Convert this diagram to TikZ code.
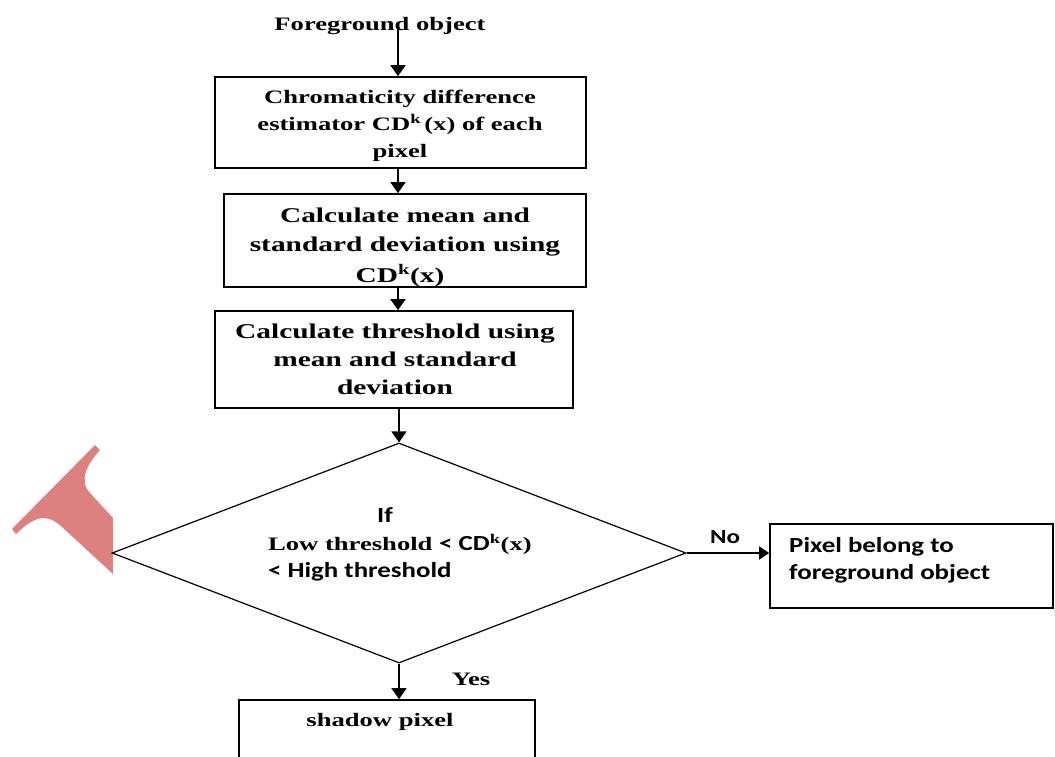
\documentclass[tikz,border=0pt]{standalone}
\usepackage{fontspec}
\usetikzlibrary{shapes.geometric,arrows.meta}
\newfontfamily\srf[FakeStretch=1.4]{Liberation Serif}
\newfontfamily\carl[FakeStretch=1.25]{Carlito}
\definecolor{wmred}{RGB}{220,128,128}
\begin{document}
\begin{tikzpicture}[x=1pt,y=-1pt,
  box/.style={draw, line width=1.7pt, inner sep=0pt},
  tS/.style={font=\srf\bfseries\fontsize{19}{28}\selectfont, inner sep=0pt, anchor=base},
  tL/.style={font=\srf\bfseries\fontsize{21}{28}\selectfont, inner sep=0pt, anchor=base},
  tC/.style={font=\carl\bfseries\fontsize{21.5}{28}\selectfont, inner sep=0pt, anchor=base},
  arr/.style={line width=1.7pt, -{Triangle[length=11pt,width=15pt]}},
  thinarr/.style={line width=1.4pt, -{Triangle[length=10pt,width=13pt]}}]
\clip (0,0) rectangle (1055,756);
\fill[white] (0,0) rectangle (1055,756);
% watermark fragment
\fill[wmred] (95,445) -- (100,450) .. controls (88,463) and (78,480) .. (90,493) -- (113,518) -- (113,574) -- (62,527) .. controls (50,516) and (38,512) .. (16,534) -- (12,529) -- cycle;
% boxes
\node[box, minimum width=371pt, minimum height=91pt] (b1) at (400.5,122.5) {};
\node[box, minimum width=362pt, minimum height=93pt] (b2) at (405,240.5) {};
\node[box, minimum width=358pt, minimum height=97pt] (b3) at (394,359.5) {};
\node[draw, line width=1.2pt, diamond, minimum width=574pt, minimum height=220pt, inner sep=0pt] (d) at (399,553) {};
\node[box, minimum width=283pt, minimum height=84pt] (b4) at (911.5,566) {};
\node[box, minimum width=296pt, minimum height=90pt] (b5) at (387,745) {};
% texts
\node[tS] (fg) at (380,30) {Foreground object};
\coordinate (fgs) at (398,22);
\node[tS] (b1a) at (400,103) {Chromaticity difference};
\node[tS] (b1b) at (400,130) {estimator CD\textsuperscript{k}\,(x) of each};
\node[tS] (b1c) at (400,157) {pixel};
\node[tL] (b2a) at (405,222) {Calculate mean and};
\node[tL] (b2b) at (405,251) {standard deviation using};
\node[tL] (b2c) at (400,282) {CD\textsuperscript{k}(x)};
\node[tL] (b3a) at (395,338) {Calculate threshold using};
\node[tL] (b3b) at (395,366) {mean and standard};
\node[tL] (b3c) at (395,394) {deviation};
\node[tC] (da) at (385,522) {If};
\node[tS, anchor=base west] (db) at (268,550) {Low threshold {\carl\fontsize{21.5}{28}\selectfont <~CD}\textsuperscript{k}(x)};
\node[tC, anchor=base west] (dc) at (268,577) {<~High threshold};
\node[tC, font=\carl\bfseries\fontsize{20}{28}\selectfont] (no) at (725,543) {No};
\node[tS] (yes) at (471,685) {Yes};
\node[tC, anchor=base west] (b4a) at (789,552) {Pixel belong to};
\node[tC, anchor=base west] (b4b) at (789,579) {foreground object};
\node[tS] (b5a) at (380,726) {shadow pixel};
% connectors
\draw[arr] (fgs) -- (fgs |- b1.north);
\draw[arr] (fgs |- b1.south) -- (fgs |- b2.north);
\draw[arr] (fgs |- b2.south) -- (fgs |- b3.north);
\draw[arr] (d.north |- b3.south) -- (d.north);
\draw[thinarr] (d.east) -- (b4.west |- d.east);
\draw[arr] (d.south) -- (d.south |- b5.north);
\end{tikzpicture}
\end{document}
